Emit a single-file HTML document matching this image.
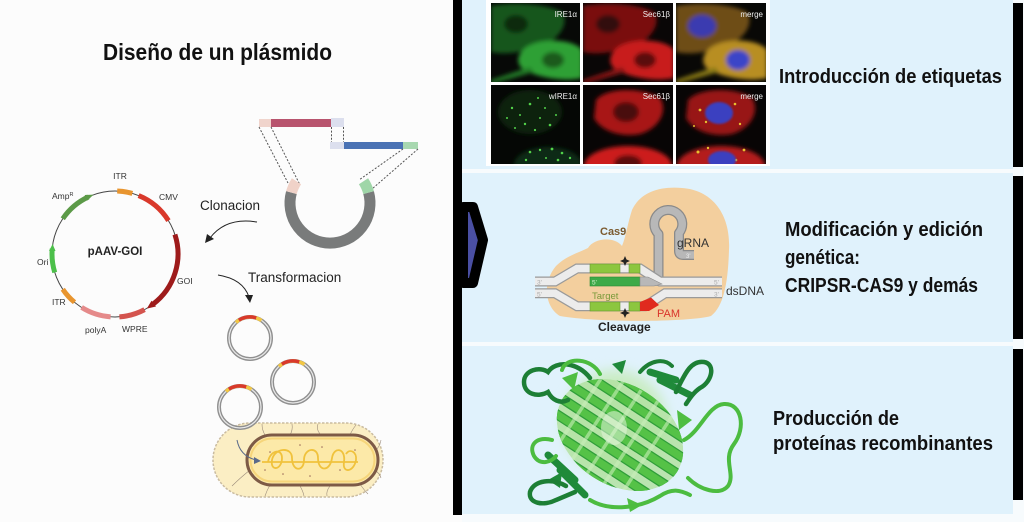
<!DOCTYPE html>
<html><head><meta charset="utf-8">
<style>
html,body{margin:0;padding:0;background:#fff;}
svg{display:block;}
text{font-family:"Liberation Sans",Arial,sans-serif;}
</style></head>
<body>
<svg width="1024" height="522" viewBox="0 0 1024 522" xmlns="http://www.w3.org/2000/svg">
<defs>
<filter id="b1" x="-50%" y="-50%" width="200%" height="200%"><feGaussianBlur stdDeviation="1"/></filter>
<filter id="b2" x="-50%" y="-50%" width="200%" height="200%"><feGaussianBlur stdDeviation="2.2"/></filter>
<filter id="b4" x="-50%" y="-50%" width="200%" height="200%"><feGaussianBlur stdDeviation="6"/></filter>
<clipPath id="t1"><rect x="491" y="3" width="89" height="79"/></clipPath>
<clipPath id="t2"><rect x="583" y="3" width="90" height="79"/></clipPath>
<clipPath id="t3"><rect x="676" y="3" width="90" height="79"/></clipPath>
<clipPath id="t4"><rect x="491" y="85" width="89" height="79"/></clipPath>
<clipPath id="t5"><rect x="583" y="85" width="90" height="79"/></clipPath>
<clipPath id="t6"><rect x="676" y="85" width="90" height="79"/></clipPath>
<clipPath id="barrel"><ellipse cx="620" cy="435" rx="68" ry="50" transform="rotate(33 620 435)"/></clipPath>
</defs>

<!-- backgrounds -->
<rect width="1024" height="522" fill="#fcfcfc"/>
<rect x="462" y="0" width="562" height="522" fill="#f7fbfd"/>
<rect x="462" y="0" width="551" height="169" fill="#e0f2fc"/>
<rect x="462" y="173" width="551" height="169" fill="#e0f2fc"/>
<rect x="462" y="346" width="551" height="168" fill="#e0f2fc"/>
<rect x="453" y="0" width="9" height="515" fill="#000"/>
<rect x="1013" y="3" width="10" height="164" fill="#000"/>
<rect x="1013" y="176" width="10" height="163" fill="#000"/>
<rect x="1013" y="349" width="10" height="151" fill="#000"/>

<!-- chevron -->
<path d="M463,207 L473,207 L483,240 L473,283 L463,283 Z" fill="#4a4fa3" stroke="#000" stroke-width="10" stroke-linejoin="round"/>

<!-- ============ LEFT: title ============ -->
<text x="103" y="60" font-size="23" font-weight="bold" fill="#111" textLength="229" lengthAdjust="spacingAndGlyphs">Diseño de un plásmido</text>

<!-- plasmid map -->
<g>
<circle cx="115" cy="254" r="63" fill="none" stroke="#444" stroke-width="1"/>
<g fill="none" stroke-width="5">
<circle cx="115" cy="254" r="63" stroke="#e8952f" stroke-dasharray="15.4 400" transform="rotate(-88 115 254)"/>
<circle cx="115" cy="254" r="63" stroke="#d9392b" stroke-dasharray="39.6 400" transform="rotate(-68 115 254)"/>
<circle cx="115" cy="254" r="63" stroke="#9e1b1b" stroke-dasharray="78 400" transform="rotate(-18 115 254)"/>
<circle cx="115" cy="254" r="63" stroke="#d4544e" stroke-dasharray="26.4 400" transform="rotate(62 115 254)"/>
<circle cx="115" cy="254" r="63" stroke="#e58a8a" stroke-dasharray="30.8 400" transform="rotate(94 115 254)"/>
<circle cx="115" cy="254" r="63" stroke="#e8952f" stroke-dasharray="17.6 400" transform="rotate(130 115 254)"/>
<circle cx="115" cy="254" r="63" stroke="#4cbf4a" stroke-dasharray="24 400" transform="rotate(163 115 254)"/>
<circle cx="115" cy="254" r="63" stroke="#5c9a48" stroke-dasharray="34 400" transform="rotate(214 115 254)"/>
</g>
<polygon points="151.5,300.8 156,306.5 146.8,308.6" fill="#9e1b1b"/>
<polygon points="55.5,251 49,251 52.6,244" fill="#4cbf4a"/>
<polygon points="87.5,200.5 84.6,195 93.5,194.6" fill="#5c9a48"/>
<g font-size="8.5" fill="#333">
<text x="120" y="179" text-anchor="middle">ITR</text>
<text x="52" y="199">Amp<tspan font-size="5.5" dy="-3">R</tspan></text>
<text x="159" y="200">CMV</text>
<text x="37" y="265">Ori</text>
<text x="177" y="284">GOI</text>
<text x="52" y="305">ITR</text>
<text x="85" y="333">polyA</text>
<text x="122" y="332">WPRE</text>
</g>
<text x="115" y="255" text-anchor="middle" font-size="11.5" font-weight="bold" fill="#222">pAAV-GOI</text>
</g>

<!-- cloning diagram -->
<g>
<rect x="259" y="119" width="12" height="8" fill="#f0d4cc"/>
<rect x="271" y="119" width="60" height="8" fill="#b8546e"/>
<rect x="331" y="118" width="13" height="9" fill="#dcdfee"/>
<rect x="330" y="142" width="14" height="7" fill="#dcdfee"/>
<rect x="344" y="142" width="59" height="7" fill="#4a72b4"/>
<rect x="403" y="142" width="15" height="7" fill="#a8d8b0"/>
<g stroke="#555" stroke-width="1" stroke-dasharray="2 1.6" fill="none">
<line x1="331.5" y1="127" x2="331.5" y2="142"/>
<line x1="343.5" y1="127" x2="343.5" y2="142"/>
<line x1="259" y1="127" x2="288" y2="183"/>
<line x1="271" y1="127" x2="300" y2="185"/>
<line x1="403" y1="149" x2="359" y2="180"/>
<line x1="418" y1="149" x2="372" y2="189"/>
</g>
<path d="M368.6,192.6 A40,40 0 1 1 291.4,192.6" fill="none" stroke="#797b7b" stroke-width="11"/>
<path d="M291.4,192.6 A40,40 0 0 1 296.5,181.2" fill="none" stroke="#f0d2c8" stroke-width="11"/>
<path d="M363.5,181.2 A40,40 0 0 1 368.6,192.6" fill="none" stroke="#9fd6a8" stroke-width="11"/>
</g>

<!-- arrows + labels -->
<text x="200" y="210" font-size="13.5" fill="#222">Clonacion</text>
<path d="M257,222 Q226,217 210,238" fill="none" stroke="#222" stroke-width="1"/>
<polygon points="205,243 207,234 214,239" fill="#222"/>
<text x="248" y="282" font-size="13.5" fill="#222">Transformacion</text>
<path d="M218,275 Q243,279 249,297" fill="none" stroke="#222" stroke-width="1"/>
<polygon points="250,303 245,295 253,295" fill="#222"/>

<!-- bacterium -->
<g>
<rect x="213" y="423" width="170" height="74" rx="37" fill="#fbeec4" stroke="#c9bba0" stroke-width="1.5" stroke-dasharray="2.5 1.5"/>
<g stroke="#9b8b7a" stroke-width="0.6" fill="none">
<path d="M265,435 Q262,430 262,424"/><path d="M290,435 Q293,430 292,424"/><path d="M320,434 Q316,429 318,424"/>
<path d="M350,435 Q352,430 356,425"/><path d="M270,485 Q267,490 265,496"/><path d="M300,486 Q303,491 304,496"/>
<path d="M330,486 Q326,491 327,496"/><path d="M360,484 Q364,490 368,494"/><path d="M250,470 Q240,478 232,486"/>
<path d="M376,450 Q380,446 381,440"/><path d="M375,470 Q380,474 381,478"/>
</g>
<rect x="247" y="435" width="131" height="50" rx="25" fill="#fce9a8" stroke="#7d5a46" stroke-width="3"/>
<rect x="250.5" y="438.5" width="124" height="43" rx="21.5" fill="none" stroke="#f6d57a" stroke-width="2"/>
<path d="M262,462 L358,462 M268,462 C270,450 282,448 282,458 C282,470 270,472 272,460 C274,448 292,446 292,458 C292,472 304,472 304,460 C304,448 318,446 318,458 C318,472 330,472 332,458 C334,446 346,448 344,462 C342,474 354,472 356,460 C357,452 350,448 346,454" fill="none" stroke="#f0c23c" stroke-width="1.8"/>
<g fill="#9a6a5a"><circle cx="270" cy="452" r="0.8"/><circle cx="300" cy="445" r="0.8"/><circle cx="322" cy="447" r="0.8"/><circle cx="340" cy="470" r="0.8"/><circle cx="283" cy="474" r="0.8"/><circle cx="355" cy="450" r="0.8"/><circle cx="310" cy="476" r="0.8"/><circle cx="265" cy="470" r="0.8"/></g>
<path d="M237,440 Q240,456 256,460" fill="none" stroke="#5a6a8a" stroke-width="1"/>
<polygon points="261,461 254,457 254,464" fill="#5a6a8a"/>
</g>

<!-- small plasmids -->
<g fill="none">
<circle cx="250" cy="338" r="21" stroke="#909090" stroke-width="4"/>
<circle cx="250" cy="338" r="21" stroke="#eaeaea" stroke-width="1.2"/>
<circle cx="250" cy="338" r="21" stroke="#f2c744" stroke-width="3.5" stroke-dasharray="27.5 200" transform="rotate(-132 250 338)"/>
<circle cx="250" cy="338" r="21" stroke="#d9392b" stroke-width="3.5" stroke-dasharray="18 200" transform="rotate(-122 250 338)"/>
<circle cx="293" cy="382" r="21" stroke="#909090" stroke-width="4"/>
<circle cx="293" cy="382" r="21" stroke="#eaeaea" stroke-width="1.2"/>
<circle cx="293" cy="382" r="21" stroke="#f2c744" stroke-width="3.5" stroke-dasharray="27.5 200" transform="rotate(-132 293 382)"/>
<circle cx="293" cy="382" r="21" stroke="#d9392b" stroke-width="3.5" stroke-dasharray="18 200" transform="rotate(-122 293 382)"/>
<circle cx="240" cy="407" r="21" stroke="#909090" stroke-width="4"/>
<circle cx="240" cy="407" r="21" stroke="#eaeaea" stroke-width="1.2"/>
<circle cx="240" cy="407" r="21" stroke="#f2c744" stroke-width="3.5" stroke-dasharray="27.5 200" transform="rotate(-132 240 407)"/>
<circle cx="240" cy="407" r="21" stroke="#d9392b" stroke-width="3.5" stroke-dasharray="18 200" transform="rotate(-122 240 407)"/>
</g>

<!-- ============ PANEL 1: microscopy ============ -->
<rect x="486" y="0" width="284" height="166" fill="#ffffff"/>
<g clip-path="url(#t1)">
<rect x="491" y="3" width="89" height="79" fill="#070907"/>
<g filter="url(#b2)">
<path d="M491,6 C510,2 545,3 562,12 C570,24 558,40 542,46 C528,50 510,56 491,52 Z" fill="#17561e"/>
<ellipse cx="516" cy="24" rx="12" ry="9" fill="#0c2a10"/>
<path d="M528,46 C545,37 575,40 582,50 L582,78 C565,82 540,78 524,70 C514,63 518,52 528,46Z" fill="#2fa035"/>
<ellipse cx="553" cy="60" rx="11" ry="8" fill="#1a5a1e"/>
<path d="M491,80 L530,67 L534,72 L491,84Z" fill="#237a28"/>
</g>
</g>
<g clip-path="url(#t2)">
<rect x="583" y="3" width="90" height="79" fill="#090606"/>
<g filter="url(#b2)">
<path d="M583,6 C602,2 637,3 654,12 C662,24 650,40 634,46 C620,50 602,56 583,52 Z" fill="#7a1010"/>
<ellipse cx="608" cy="24" rx="12" ry="9" fill="#300707"/>
<path d="M620,46 C637,37 667,40 674,50 L674,78 C657,82 632,78 616,70 C606,63 610,52 620,46Z" fill="#c81e1e"/>
<ellipse cx="645" cy="60" rx="11" ry="8" fill="#5a0e0e"/>
<path d="M583,80 L622,67 L626,72 L583,84Z" fill="#8a1414"/>
</g>
</g>
<g clip-path="url(#t3)">
<rect x="676" y="3" width="90" height="79" fill="#090806"/>
<g filter="url(#b2)">
<path d="M676,6 C695,2 730,3 747,12 C755,24 743,40 727,46 C713,50 695,56 676,52 Z" fill="#6e4e18"/>
<ellipse cx="702" cy="26" rx="14" ry="11" fill="#3a3ab0"/>
<path d="M713,46 C730,37 760,40 767,50 L767,78 C750,82 725,78 709,70 C699,63 703,52 713,46Z" fill="#b88e22"/>
<ellipse cx="738" cy="60" rx="12" ry="10" fill="#3a44c8"/>
<path d="M676,80 L715,67 L719,72 L676,84Z" fill="#8a7a18"/>
</g>
</g>
<g clip-path="url(#t4)">
<rect x="491" y="85" width="89" height="79" fill="#050705"/>
<ellipse cx="530" cy="112" rx="32" ry="22" fill="#0d2410" filter="url(#b2)"/>
<ellipse cx="548" cy="165" rx="34" ry="18" fill="#0f2a12" filter="url(#b2)"/>
<g fill="#52d24a">
<circle cx="512" cy="108" r="1.2"/><circle cx="520" cy="115" r="1"/><circle cx="530" cy="104" r="1.3"/><circle cx="540" cy="118" r="1"/>
<circle cx="525" cy="124" r="1.2"/><circle cx="545" cy="108" r="1"/><circle cx="550" cy="125" r="1.3"/><circle cx="515" cy="128" r="1"/>
<circle cx="535" cy="130" r="1.1"/><circle cx="556" cy="115" r="1"/><circle cx="507" cy="118" r="1"/><circle cx="538" cy="98" r="1"/>
<circle cx="530" cy="152" r="1.3"/><circle cx="540" cy="150" r="1.2"/><circle cx="552" cy="149" r="1.4"/><circle cx="562" cy="153" r="1.3"/>
<circle cx="570" cy="158" r="1.2"/><circle cx="526" cy="160" r="1.2"/><circle cx="546" cy="158" r="1"/><circle cx="558" cy="160" r="1.3"/>
</g>
</g>
<g clip-path="url(#t5)">
<rect x="583" y="85" width="90" height="79" fill="#080505"/>
<g filter="url(#b2)">
<path d="M596,100 C605,88 640,86 660,98 C668,110 660,128 640,134 C620,138 600,130 594,118 Z" fill="#a81414"/>
<ellipse cx="626" cy="112" rx="13" ry="10" fill="#4a0808"/>
<ellipse cx="628" cy="166" rx="44" ry="20" fill="#cc1e1e"/>
<ellipse cx="628" cy="163" rx="14" ry="8" fill="#5a0a0a"/>
</g>
</g>
<g clip-path="url(#t6)">
<rect x="676" y="85" width="90" height="79" fill="#080505"/>
<g filter="url(#b2)">
<path d="M688,100 C698,88 735,86 752,98 C760,110 752,128 732,134 C712,138 692,130 686,118 Z" fill="#981616"/>
<ellipse cx="721" cy="166" rx="44" ry="20" fill="#b41a1a"/>
</g>
<g fill="#e8c030"><circle cx="700" cy="110" r="1.4"/><circle cx="706" cy="122" r="1.2"/><circle cx="735" cy="104" r="1.3"/><circle cx="740" cy="124" r="1.2"/><circle cx="698" cy="152" r="1.5"/><circle cx="744" cy="150" r="1.4"/><circle cx="708" cy="148" r="1.2"/><circle cx="736" cy="160" r="1.3"/><circle cx="694" cy="126" r="1"/></g>
<ellipse cx="719" cy="113" rx="14" ry="11" fill="#3a40c0" filter="url(#b1)"/>
<ellipse cx="722" cy="160" rx="14" ry="9" fill="#3a40c0" filter="url(#b1)"/>
</g>
<g font-size="8" fill="#eee" text-anchor="end">
<text x="577" y="17">IRE1α</text><text x="670" y="17">Sec61β</text><text x="763" y="17">merge</text>
<text x="577" y="99">wIRE1α</text><text x="670" y="99">Sec61β</text><text x="763" y="99">merge</text>
</g>
<text x="779" y="83" font-size="20.5" font-weight="bold" fill="#111" textLength="223" lengthAdjust="spacingAndGlyphs">Introducción de etiquetas</text>

<!-- ============ PANEL 2: CRISPR ============ -->
<path d="M560,316 C546,308 541,284 556,266 C566,256 578,253 588,248 C594,238 614,236 622,246 C626,236 628,222 632,210 C640,193 658,186 682,188 C712,190 731,214 729,250 C728,282 724,306 711,316 C690,322 600,323 560,316 Z" fill="#f3cf9e"/>
<!-- gRNA -->
<g fill="none" stroke-linejoin="round">
<path d="M658.5,286 L658.5,234 A14,14 0 1 1 679,233 L679,251 Q679,255 683,255 L694,255" stroke="#8a8a8a" stroke-width="10"/>
<path d="M658.5,286 L658.5,234 A14,14 0 1 1 679,233 L679,251 Q679,255 683,255 L694,255" stroke="#b8b8b8" stroke-width="7.5"/>
</g>
<text x="686" y="258" font-size="6" fill="#eee">3'</text>
<!-- DNA strands -->
<g fill="none" stroke-linejoin="miter">
<path d="M535,281.5 L555,281.5 L577,268.5 L640,268.5 L660,281.5 L722,281.5" stroke="#9a9a9a" stroke-width="10"/>
<path d="M535,281.5 L555,281.5 L577,268.5 L640,268.5 L660,281.5 L722,281.5" stroke="#ececec" stroke-width="7.5"/>
<path d="M535,293.3 L555,293.3 L577,306.2 L645,306.2 L665,293.3 L722,293.3" stroke="#9a9a9a" stroke-width="10"/>
<path d="M535,293.3 L555,293.3 L577,306.2 L645,306.2 L665,293.3 L722,293.3" stroke="#ececec" stroke-width="7.5"/>
</g>
<rect x="590" y="264" width="30" height="9" fill="#8cc63f" stroke="#6a9a30" stroke-width="0.6"/>
<rect x="629" y="264" width="11" height="9" fill="#8cc63f" stroke="#6a9a30" stroke-width="0.6"/>
<rect x="590" y="277" width="50" height="9" fill="#3daa48" stroke="#2a8a35" stroke-width="0.6"/>
<polygon points="640,277 648,277 662,284 654,286 640,286" fill="#b8b8b8" stroke="#8a8a8a" stroke-width="0.6"/>
<rect x="590" y="302" width="30" height="9" fill="#8cc63f" stroke="#6a9a30" stroke-width="0.6"/>
<rect x="629" y="302" width="11" height="9" fill="#8cc63f" stroke="#6a9a30" stroke-width="0.6"/>
<polygon points="640,302 651,297.5 659,305 649,311 640,311" fill="#e02a1e"/>
<g font-size="6.5" fill="#aaa">
<text x="537" y="284.5">3'</text><text x="537" y="296.5">5'</text>
<text x="714" y="284.5">5'</text><text x="714" y="296.5">3'</text>
</g>
<text x="592" y="284.5" font-size="6.5" fill="#d8f0d0">5'</text>
<path d="M625,256 L626.5,259.5 L630,261 L626.5,262.5 L625,266 L623.5,262.5 L620,261 L623.5,259.5 Z" fill="#222"/>
<path d="M625,308 L626.5,311.5 L630,313 L626.5,314.5 L625,318 L623.5,314.5 L620,313 L623.5,311.5 Z" fill="#222"/>
<text x="600" y="235" font-size="11" font-weight="bold" fill="#7b5a2e">Cas9</text>
<text x="677" y="247" font-size="12" fill="#333">gRNA</text>
<text x="592" y="299" font-size="9.5" fill="#7a9a3a">Target</text>
<text x="657" y="317" font-size="11" fill="#d9332b">PAM</text>
<text x="598" y="331" font-size="12" font-weight="bold" fill="#222">Cleavage</text>
<text x="726" y="295" font-size="12" fill="#333">dsDNA</text>

<g font-size="20.5" font-weight="bold" fill="#111">
<text x="785" y="236" textLength="198" lengthAdjust="spacingAndGlyphs">Modificación y edición</text>
<text x="785" y="264" textLength="75" lengthAdjust="spacingAndGlyphs">genética:</text>
<text x="785" y="292" textLength="193" lengthAdjust="spacingAndGlyphs">CRIPSR-CAS9 y demás</text>
</g>

<!-- ============ PANEL 3: GFP ============ -->
<g>
<circle cx="615" cy="422" r="52" fill="#c9ecc2" filter="url(#b4)"/>
<!-- back dark strands -->
<g stroke="#1f8a3a" stroke-width="7" fill="none" stroke-linecap="round">
<path d="M560,470 L585,495"/><path d="M548,455 L575,480"/><path d="M660,380 L690,395"/><path d="M650,372 L676,380"/>
</g>
<g clip-path="url(#barrel)">
<ellipse cx="620" cy="435" rx="68" ry="50" transform="rotate(33 620 435)" fill="#b3e2a2" opacity="0.85"/>
<g stroke="#2f9e3a" stroke-width="10">
<line x1="611.7" y1="371.3" x2="678.9" y2="414.9"/>
<line x1="585.7" y1="374.6" x2="686.3" y2="440"/>
<line x1="569.6" y1="384.5" x2="683.8" y2="458.6"/>
<line x1="559.3" y1="396.9" x2="676.7" y2="473.2"/>
<line x1="552.2" y1="411.3" x2="666.4" y2="485.5"/>
<line x1="549.7" y1="430" x2="650.3" y2="495.4"/>
<line x1="553" y1="452.5" x2="628.6" y2="501.5"/>
</g>
<g stroke="#55c247" stroke-width="7.5">
<line x1="611.7" y1="371.3" x2="678.9" y2="414.9"/>
<line x1="585.7" y1="374.6" x2="686.3" y2="440"/>
<line x1="569.6" y1="384.5" x2="683.8" y2="458.6"/>
<line x1="559.3" y1="396.9" x2="676.7" y2="473.2"/>
<line x1="552.2" y1="411.3" x2="666.4" y2="485.5"/>
<line x1="549.7" y1="430" x2="650.3" y2="495.4"/>
<line x1="553" y1="452.5" x2="628.6" y2="501.5"/>
</g>
<g stroke="#c8efba" stroke-width="3.5" opacity="0.6">
<line x1="607.5" y1="368.6" x2="552.9" y2="452.5"/>
<line x1="624.3" y1="379.4" x2="569.8" y2="463.4"/>
<line x1="641.1" y1="390.3" x2="586.6" y2="474.2"/>
<line x1="657.8" y1="401.2" x2="603.3" y2="485.1"/>
<line x1="674.6" y1="412.1" x2="620.1" y2="496"/>
</g>
<ellipse cx="614" cy="428" rx="13" ry="17" fill="#e2f6da" opacity="0.55"/>
</g>
<!-- arrowheads -->
<polygon points="562,378 578,372 574,390" fill="#4fbe42"/>
<polygon points="692,420 677,410 679,430" fill="#4fbe42"/>
<polygon points="642,505 627,498 630,512" fill="#4fbe42"/>
<polygon points="548,480 562,472 560,488" fill="#1f8a3a"/>
<polygon points="612,364 626,360 622,374" fill="#1f8a3a"/>
<!-- loops -->
<g fill="none" stroke-linecap="round">
<path d="M590,378 C578,362 556,360 548,372 C540,366 524,370 524,382 C524,394 538,398 548,392 C552,400 560,404 568,400" stroke="#1d7f35" stroke-width="4.5"/>
<path d="M676,392 C684,376 690,360 704,362 C716,364 712,382 700,388 C694,392 690,398 686,404" stroke="#1d7f35" stroke-width="4.5"/>
<path d="M566,486 C552,478 534,480 530,492 C528,504 544,506 556,500 L575,492" stroke="#1d7f35" stroke-width="4.5"/>
<path d="M684,440 C700,432 708,405 724,404 C742,403 746,428 734,444 C722,460 736,474 728,486 C720,496 700,490 688,478" stroke="#4cbc40" stroke-width="4"/>
<path d="M600,374 C592,358 566,356 562,370" stroke="#4cbc40" stroke-width="4"/>
<path d="M590,500 C610,512 640,508 660,496 C672,488 680,490 690,495" stroke="#4cbc40" stroke-width="4"/>
<path d="M552,440 C538,436 528,444 534,456 C540,466 552,462 556,456" stroke="#4cbc40" stroke-width="4"/>
<path d="M640,372 C650,360 664,358 672,366" stroke="#1d7f35" stroke-width="4"/>
</g>
</g>
<g font-size="20.5" font-weight="bold" fill="#111">
<text x="773" y="425" textLength="126" lengthAdjust="spacingAndGlyphs">Producción de</text>
<text x="773" y="450" textLength="220" lengthAdjust="spacingAndGlyphs">proteínas recombinantes</text>
</g>
</svg>
</body></html>
